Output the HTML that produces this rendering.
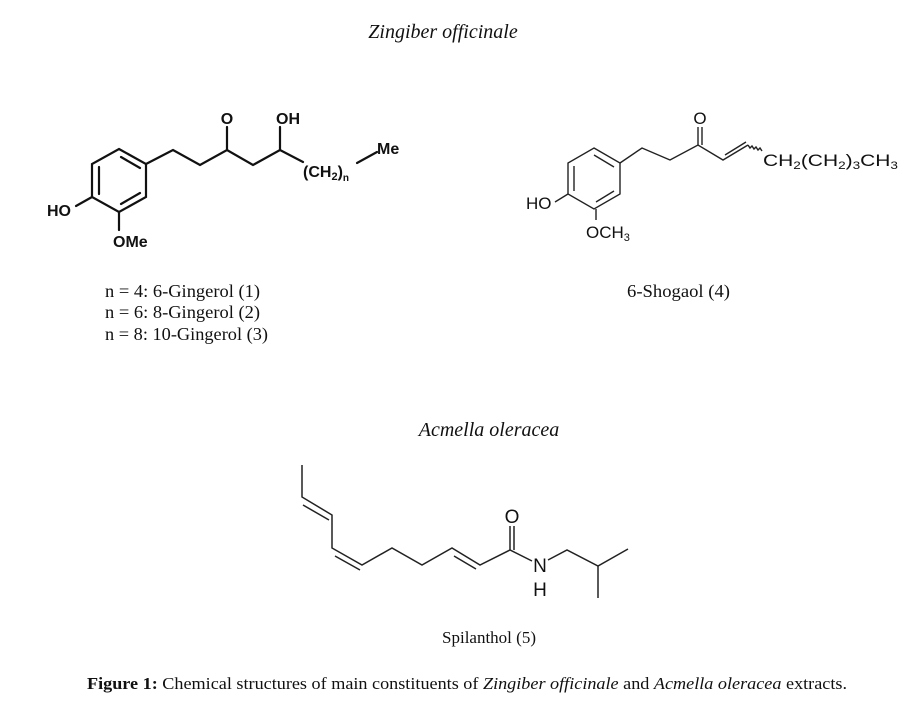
<!DOCTYPE html>
<html><head><meta charset="utf-8"><style>
html,body{margin:0;padding:0;background:#fff;}
svg{display:block;}
.s{font-family:"Liberation Serif",serif;fill:#111;}
.a{font-family:"Liberation Sans",sans-serif;fill:#111;}
</style></head><body>
<svg width="906" height="710" viewBox="0 0 906 710" xmlns="http://www.w3.org/2000/svg">
<text class="s" x="443" y="38" font-size="20" font-style="italic" text-anchor="middle">Zingiber officinale</text>

<!-- Gingerol -->
<g stroke="#111" stroke-width="2.2" fill="none" stroke-linecap="round">
<polygon points="119,149 146,164 146,197 119,212 92,197 92,164"/>
<line x1="121" y1="157" x2="140" y2="168"/>
<line x1="99" y1="167" x2="99" y2="194"/>
<line x1="121" y1="204" x2="140" y2="193"/>
<polyline points="146,164 173,150 200,165 227,150 253,165 280,150 303,162"/>
<line x1="227" y1="150" x2="227" y2="127"/>
<line x1="280" y1="150" x2="280" y2="127"/>
<line x1="92" y1="197" x2="76" y2="206"/>
<line x1="119" y1="212" x2="119" y2="230"/>
<line x1="357" y1="163" x2="377" y2="152"/>
</g>
<g class="a" font-weight="bold" font-size="16">
<text x="227" y="124" text-anchor="middle">O</text>
<text x="288" y="124" text-anchor="middle">OH</text>
<text x="303" y="177">(CH<tspan font-size="11" dy="3">2</tspan><tspan dy="-3">)</tspan><tspan font-size="10" dy="4">n</tspan></text>
<text x="377" y="154">Me</text>
<text x="47" y="216">HO</text>
<text x="113" y="247">OMe</text>
</g>

<!-- Shogaol -->
<g stroke="#222" stroke-width="1.4" fill="none">
<polygon points="594,148 620,163 620,194 594,209 568,194 568,163"/>
<line x1="594" y1="155" x2="614" y2="167"/>
<line x1="574" y1="166" x2="574" y2="191"/>
<line x1="596" y1="202" x2="614" y2="191"/>
<polyline points="620,163 642,148 670,160 698,145 723,160 748,145"/>
<line x1="725" y1="155" x2="746" y2="142"/>
<path d="M748,145 l2,3 l2,-2 l2,3 l2,-2 l2,3 l2,-2 l2,3"/>
<line x1="698" y1="145" x2="698" y2="127"/>
<line x1="702" y1="145" x2="702" y2="127"/>
<line x1="568" y1="194" x2="555" y2="202"/>
<line x1="596" y1="209" x2="596" y2="220"/>
</g>
<g class="a" font-size="17">
<text x="700" y="124" text-anchor="middle">O</text>
<text x="763" y="166" textLength="135" lengthAdjust="spacingAndGlyphs">CH<tspan font-size="11" dy="3">2</tspan><tspan dy="-3">(CH</tspan><tspan font-size="11" dy="3">2</tspan><tspan dy="-3">)</tspan><tspan font-size="11" dy="3">3</tspan><tspan dy="-3">CH</tspan><tspan font-size="11" dy="3">3</tspan></text>
<text x="526" y="209">HO</text>
<text x="586" y="238">OCH<tspan font-size="11" dy="3">3</tspan></text>
</g>

<g class="s" font-size="18">
<text x="105" y="297" textLength="155" lengthAdjust="spacingAndGlyphs">n = 4: 6-Gingerol  (1)</text>
<text x="105" y="318" textLength="155" lengthAdjust="spacingAndGlyphs">n = 6: 8-Gingerol  (2)</text>
<text x="105" y="340" textLength="163" lengthAdjust="spacingAndGlyphs">n = 8: 10-Gingerol  (3)</text>
<text x="627" y="297" textLength="103" lengthAdjust="spacingAndGlyphs">6-Shogaol  (4)</text>
</g>

<text class="s" x="489" y="436" font-size="20" font-style="italic" text-anchor="middle">Acmella oleracea</text>

<!-- Spilanthol -->
<g stroke="#222" stroke-width="1.5" fill="none">
<polyline points="302,465 302,497 332,515 332,548 362,565 392,548 422,565 452,548 480,565 510,550 532,561"/>
<line x1="303" y1="505" x2="329" y2="520"/>
<line x1="335" y1="556" x2="360" y2="570"/>
<line x1="454" y1="556" x2="476" y2="569"/>
<line x1="510" y1="550" x2="510" y2="526"/>
<line x1="514" y1="550" x2="514" y2="526"/>
<polyline points="548,560 567,550 598,566 628,549"/>
<line x1="598" y1="566" x2="598" y2="598"/>
</g>
<g class="a" font-size="19">
<text x="512" y="523" text-anchor="middle">O</text>
<text x="540" y="572" text-anchor="middle">N</text>
<text x="540" y="596" text-anchor="middle">H</text>
</g>

<text class="s" x="489" y="643" font-size="17" text-anchor="middle">Spilanthol  (5)</text>

<text class="s" x="87" y="689" font-size="17" textLength="760" lengthAdjust="spacingAndGlyphs"><tspan font-weight="bold">Figure 1:</tspan> Chemical structures of main constituents of <tspan font-style="italic">Zingiber officinale</tspan> and <tspan font-style="italic">Acmella oleracea</tspan> extracts.</text>
</svg>
</body></html>
